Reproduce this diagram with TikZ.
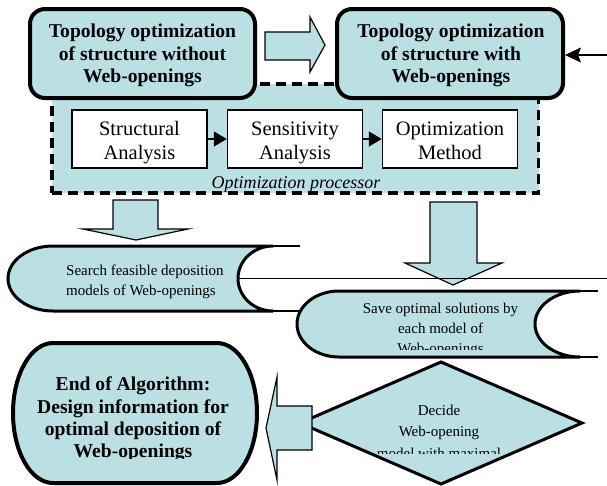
\documentclass[tikz,border=0pt]{standalone}
\usepackage{fontspec}
\setmainfont{Liberation Serif}
\usetikzlibrary{arrows.meta}
\definecolor{lb}{RGB}{186,224,228}
\tikzset{
  bigbox/.style={draw, line width=4pt, rounded corners=15pt, fill=lb, minimum height=89pt, inner sep=0pt},
  whitebox/.style={draw, line width=1.5pt, fill=white, minimum width=135pt, minimum height=58pt, inner sep=0pt},
  procbox/.style={draw, line width=3.5pt, dash pattern=on 10pt off 6pt, fill=lb, minimum width=486.5pt, minimum height=109pt, inner sep=0pt},
  titletext/.style={anchor=north, inner sep=0pt, align=center, font=\fontsize{19.6}{22.5}\selectfont\bfseries},
  boxtext/.style={anchor=north, inner sep=0pt, align=center, font=\fontsize{20.5}{24.5}\selectfont},
  smalltext/.style={anchor=north, inner sep=0pt, align=center, font=\fontsize{15}{20}\selectfont},
  blockarrow/.style={draw, line width=1.2pt, fill=lb, line join=miter},
  scrollshape/.style={draw, line width=3pt, fill=lb},
  smallarrow/.style={line width=1.5pt, -{Triangle[length=13pt,width=15pt]}},
}
\begin{document}
\begin{tikzpicture}[x=1pt,y=-1pt]
\useasboundingbox (0,0) rectangle (607,485);

% optimization processor container
\node[procbox] (proc) at (295.25,138.5) {};

% top boxes
\node[bigbox, minimum width=225pt] (b1) at (142.5,53.5) {};
\node[bigbox, minimum width=226pt] (b2) at (450,53.5) {};
\node[titletext] (b1t) at (142.5,21.75) {\strut Topology optimization\\of structure without\\Web-openings};
\node[titletext] (b2t) at (451,21.75) {\strut Topology optimization\\of structure with\\Web-openings};

% inner boxes
\node[whitebox] (sa) at (139.5,139) {};
\node[whitebox] (sens) at (295,139) {};
\node[whitebox] (om) at (450,139) {};
\node[boxtext] (sat) at (139.5,117.85) {\strut Structural\\Analysis};
\node[boxtext] (senst) at (295,117.85) {\strut Sensitivity\\Analysis};
\node[boxtext] (omt) at (450,117.85) {\strut Optimization\\Method};
\draw[smallarrow] (sa.east) -- (sens.west);
\draw[smallarrow] (sens.east) -- (om.west);
\node[anchor=base, inner sep=0pt, font=\fontsize{18}{20}\selectfont\itshape] (proct) at (296,188) {Optimization processor};

% block arrow right
\draw[blockarrow] (265,32) -- (310,32) -- (310,17) -- (325,45) -- (310,72) -- (310,60) -- (265,60) -- cycle;

% feedback arrow into box 2
\coordinate (fb) at (607,55);
\draw[line width=1.5pt, -{Stealth[length=16pt,width=15pt,inset=3pt]}] (fb) -- (fb -| b2.east);

% down block arrows
\draw[blockarrow] (113,200) -- (158,200) -- (158,229) -- (188,229) -- (136,240) -- (83,229) -- (113,229) -- cycle;
\draw[blockarrow] (430,202) -- (477,202) -- (477,263) -- (502,263) -- (453,285) -- (405,263) -- (430,263) -- cycle;

% scroll shape 1
\draw[scrollshape] (53,246) -- (273,246) .. controls (253.67,246) and (238,260.55) .. (238,278.5) .. controls (238,296.45) and (253.67,311) .. (273,311) -- (53,311) .. controls (28.15,311) and (8,296.45) .. (8,278.5) .. controls (8,260.55) and (28.15,246) .. (53,246) -- cycle;
\draw[line width=2.6pt] (273,246) -- (300,246) (273,311) -- (300,311);
\node[anchor=north west, inner sep=0pt, align=left, font=\fontsize{15}{19.5}\selectfont] (s1t) at (66,261.7) {\strut Search feasible deposition\\models of Web-openings};

% scroll shape 2
\draw[scrollshape] (339,291) -- (580,291) .. controls (555.15,291) and (535,305.77) .. (535,324) .. controls (535,342.23) and (555.15,357) .. (580,357) -- (339,357) .. controls (315.8,357) and (297,342.23) .. (297,324) .. controls (297,305.77) and (315.8,291) .. (339,291) -- cycle;
\draw[line width=2.6pt] (580,291) -- (598,291) (580,357) -- (598,357);
\begin{scope}
  \clip (300,285) rectangle (600,349.5);
  \node[smalltext] (s2t) at (440.5,299.3) {\strut Save optimal solutions by\\each model of\\Web-openings};
\end{scope}

% horizontal line from scroll 1 to the right edge
\coordinate (hl) at (238,278.5);
\coordinate (hr) at (607,278.5);
\draw[line width=1.8pt] (hl) -- (hr);

% decision diamond
\draw[line width=3pt, fill=lb, line join=miter] (300,423) -- (441,362) -- (582,423) -- (441,484) -- cycle;
\begin{scope}
  \clip (300,390) rectangle (582,453.5);
  \node[smalltext, font=\fontsize{15}{21.5}\selectfont] (dt) at (439,399.95) {\strut Decide\\Web-opening\\model with maximal};
\end{scope}

% left block arrow
\draw[blockarrow] (312,406) -- (312,450) -- (277,450) -- (277,480) -- (266,428) -- (277,377) -- (277,406) -- cycle;

% end box
\draw[line width=4pt, fill=lb] (53,343) -- (217,343) .. controls (239.1,343) and (257,374.3) .. (257,413) .. controls (257,451.7) and (239.1,483) .. (217,483) -- (53,483) .. controls (30.9,483) and (13,451.7) .. (13,413) .. controls (13,374.3) and (30.9,343) .. (53,343) -- cycle;
\begin{scope}
  \clip (15,345) rectangle (255,458);
  \node[titletext, font=\fontsize{19.6}{22.2}\selectfont\bfseries] (et) at (133,375.2) {\strut End of Algorithm:\\Design information for\\optimal deposition of\\Web-openings};
\end{scope}
\end{tikzpicture}
\end{document}
